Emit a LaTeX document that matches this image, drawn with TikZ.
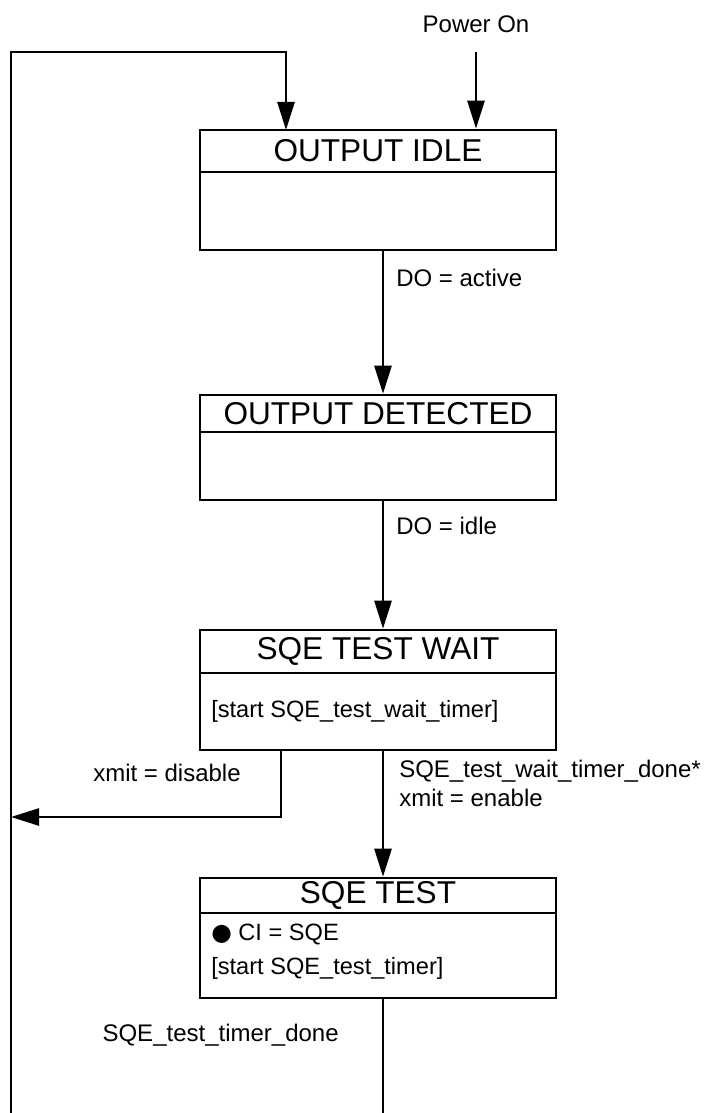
\documentclass[tikz,border=0pt]{standalone}
\usepackage{fontspec}
\setmainfont{Liberation Sans}
\newfontfamily\symfont{DejaVu Sans}
\usetikzlibrary{positioning, arrows.meta, calc}

\begin{document}
\begin{tikzpicture}[
    x=0.5pt, y=-0.5pt,
    >={Triangle[length=14pt, width=8.5pt]},
    line width=1.3pt,
    statebox/.style={draw, minimum width=178pt, inner sep=0pt},
    titlebox/.style={draw, minimum width=178pt, inner sep=0pt,
        font=\fontsize{15.8}{18}\selectfont},
    bodytext/.style={font=\fontsize{11.8}{14}\selectfont, inner sep=0pt, anchor=west},
    lbl/.style={font=\fontsize{12}{14.2}\selectfont, inner sep=0pt, align=left},
    flow/.style={->},
]
\useasboundingbox (0,0) rectangle (703,1113);

% ============================================
% States
% ============================================
\node[statebox, minimum height=60pt] (idle) at (378,190) {};
\node[titlebox, minimum height=21pt, below=0pt of idle.north] (idletitle) {OUTPUT IDLE};

\node[statebox, minimum height=52.5pt] (detect) at (378,447.5) {};
\node[titlebox, minimum height=18.5pt, below=0pt of detect.north] (detecttitle) {OUTPUT DETECTED};

\node[statebox, minimum height=60pt] (wait) at (378,690) {};
\node[titlebox, minimum height=21.5pt, below=0pt of wait.north] (waittitle) {SQE TEST WAIT};
\node[bodytext] (waitaction) at (210,711) {[start SQE\_test\_wait\_timer]};

\node[statebox, minimum height=60pt] (test) at (378,938) {};
\node[titlebox, minimum height=17.5pt, below=0pt of test.north] (testtitle) {SQE TEST};
\node[bodytext] (testaction1) at (210,934) {{\symfont ●} CI = SQE};
\node[bodytext] (testaction2) at (210,968) {[start SQE\_test\_timer]};

% ============================================
% Entry and loop points
% ============================================
\node[lbl] (poweron) at (476,24) {Power On};
\coordinate (powertop) at (476,52);
\coordinate (looptop) at (11,52);
\coordinate (loopbot) at (11,1113);
\coordinate (exitbot) at (383,1113);
\coordinate (loopin) at (286,130);
\coordinate (waitleft) at (281,750);
\coordinate (disturn) at (281,817);

% ============================================
% Transitions
% ============================================
\draw[flow] (powertop) -- (powertop |- idle.north);
\draw[flow] (loopbot) -- (looptop) -| (loopin);

\draw[flow] (idle.south -| exitbot) -- (detect.north -| exitbot)
    node[lbl, anchor=west, pos=0.19, xshift=6pt] (doactive) {DO = active};
\draw[flow] (detect.south -| exitbot) -- (wait.north -| exitbot)
    node[lbl, anchor=west, pos=0.19, xshift=6pt] (doidle) {DO = idle};
\draw[flow] (wait.south -| exitbot) -- (test.north -| exitbot);
\node[lbl, anchor=north west] (waitdone) at (398,759) {SQE\_test\_wait\_timer\_done*\\xmit = enable};

\draw[flow] (waitleft) -- (disturn) -- (disturn -| loopbot);
\node[lbl, anchor=east] (xmitdis) at (242,773) {xmit = disable};

\draw (test.south -| exitbot) -- (exitbot);
\node[lbl, anchor=east] (testdone) at (340,1035) {SQE\_test\_timer\_done};

\end{tikzpicture}
\end{document}
